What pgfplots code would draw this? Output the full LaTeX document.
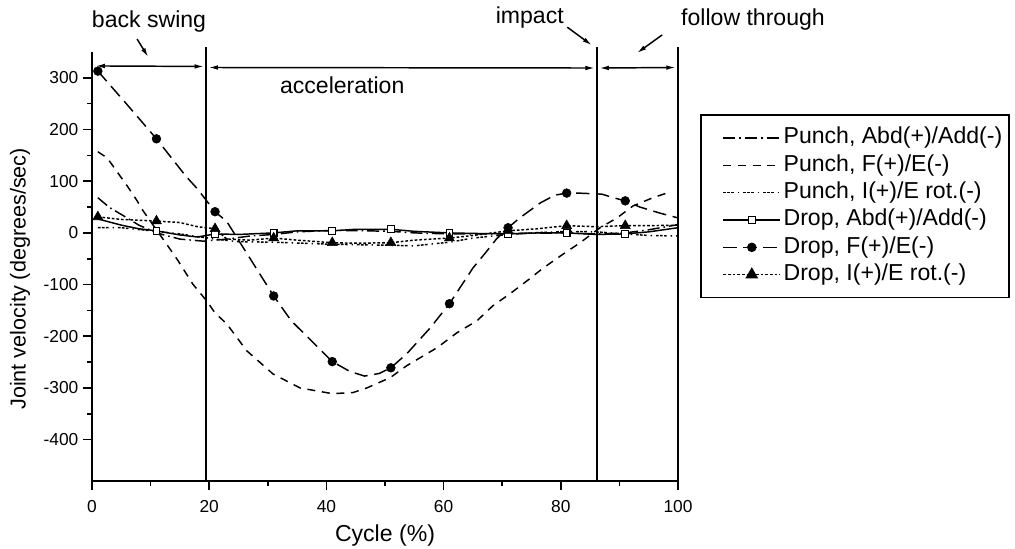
\documentclass[border=0pt]{standalone}
\usepackage{fontspec}
\setmainfont{Liberation Sans}
\usepackage{pgfplots}
\pgfplotsset{compat=1.18}
\usetikzlibrary{arrows.meta}

\pgfplotsset{
 pabd/.style={black, line width=1.1pt, dash pattern=on 9pt off 3pt on 1.2pt off 3pt},
 pfe/.style={black, line width=1.1pt, dash pattern=on 6pt off 5pt},
 pie/.style={black, line width=1.1pt, dash pattern=on 2pt off 1pt on 2pt off 1pt on 2pt off 3pt on 1pt off 3pt},
 dabd/.style={black, line width=1.1pt, solid},
 dfe/.style={black, line width=1.1pt, dash pattern=on 10pt off 5pt},
 die/.style={black, line width=1.1pt, dash pattern=on 2pt off 1.5pt},
}
\newcommand{\bigfont}{\fontsize{17.3}{20}\selectfont}

\begin{document}
\begin{tikzpicture}
\useasboundingbox (0,0) rectangle (761.25pt,411.75pt);
\begin{axis}[
  at={(69pt,51pt)}, anchor=south west,
  scale only axis, width=439.5pt, height=321.75pt,
  xmin=0, xmax=100, ymin=-480, ymax=350,
  axis lines=left, axis line style={-, line width=1.2pt},
  xtick={0,20,...,100}, ytick={-400,-300,...,300},
  minor x tick num=1, minor y tick num=1,
  tick align=outside, major tick length=6.75pt, minor tick length=3.75pt,
  every tick/.style={black, line width=1.2pt},
  tick label style={font=\fontsize{13}{15}\selectfont},
  x tick label style={yshift=-4.5pt},
  /pgf/number format/assume math mode=true,
  xlabel={Cycle (\%)}, ylabel={Joint velocity (degrees/sec)},
  xlabel style={font=\bigfont, at={(rel axis cs:0.5,-0.128)}, anchor=center},
  ylabel style={font=\fontsize{16.2}{19}\selectfont, at={(rel axis cs:-0.1229,0.471)}, anchor=center},
  clip=false,
  legend image code/.code={\path (-0.47cm,0cm); \draw[mark repeat=2,mark phase=2,#1] plot coordinates {(0cm,0cm) (0.75cm,0cm) (1.5cm,0cm)};},
  legend style={at={(rel axis cs:1.0375,0.855)}, anchor=north west, draw=black, line width=1.2pt,
    font=\bigfont, legend cell align=left, row sep=4pt, inner xsep=3pt, inner ysep=9pt,
    nodes={inner ysep=0pt, text height=12.5pt, text depth=4pt}},
]
\addlegendimage{pabd}
\addlegendimage{pfe}
\addlegendimage{pie}
\addlegendimage{dabd, mark=square*, mark options={solid, fill=white, line width=0.8pt}, mark size=2.5pt}
\addlegendimage{dfe, mark=*, mark options={solid}, mark size=3pt}
\addlegendimage{die, mark=triangle*, mark options={solid}, mark size=4.5pt}
\legend{Punch{,} Abd(+)/Add(-), Punch{,} F(+)/E(-), Punch{,} I(+)/E rot.(-), Drop{,} Abd(+)/Add(-), Drop{,} F(+)/E(-), Drop{,} I(+)/E rot.(-)}

% Punch, Abd(+)/Add(-)
\addplot[pabd, forget plot] coordinates {(1,68) (3,49) (5.4,33) (8,15) (11,0) (15,-12) (19,-16) (23,-12) (27,-6) (31,-3) (35,2) (41,5) (47,4) (51,3) (55,0) (61,-2) (67,-2) (71,-1) (81,0) (86,-2) (91,0) (95,6) (100,16)};
% Punch, F(+)/E(-)
\addplot[pfe, forget plot] coordinates {(1,157) (2.6,145) (4.8,110) (6,91) (7.7,62) (8.7,43) (11,6) (13.3,-31) (14.7,-54) (17.2,-99) (19.6,-132) (21,-155) (23,-176) (26.4,-228) (30.9,-273) (35.5,-300) (41,-311) (44.5,-309) (46.9,-300) (50.9,-280) (53.7,-257) (58.9,-222) (62.3,-193) (65.7,-170) (68.4,-141) (71.3,-118) (74.2,-93) (77,-68) (80.4,-41) (83.3,-19) (86.7,10) (89.6,29) (92.3,52) (95.7,68) (98.6,79)};
% Punch, I(+)/E rot.(-)
\addplot[pie, forget plot] coordinates {(1,10) (5,10) (11,3) (15,-2) (21,-12) (25,-17) (31,-18) (41,-22) (51,-24) (55,-25) (61,-18) (65,-10) (71,-3) (75,0) (81,3) (86,2) (91,-2) (95,-5) (100,-6)};
% Drop, Abd(+)/Add(-)
\addplot[dabd, forget plot] coordinates {(1,27) (5,15) (8,8) (11,4) (15,-4) (18,-8) (21,-2) (25,-3) (31,0) (35,4) (41,4) (45,7) (51,7) (55,3) (61,0) (65,-1) (71,-2) (76,0) (81,0) (86,-3) (91,-2) (95,2) (100,10)};
\addplot[only marks, mark=square*, mark options={solid, fill=white, draw=black, line width=0.8pt}, mark size=2.5pt, forget plot] coordinates {(11,4) (21,-2) (31,0) (41,4) (51,7) (61,0) (71,-2) (81,0) (91,-2)};
% Drop, F(+)/E(-)
\addplot[dfe, forget plot] coordinates {(1,313) (6,248) (11,182) (16,110) (18,85) (21,41) (23,22) (26,-32) (31,-122) (34,-170) (38,-215) (41,-249) (44,-268) (46.5,-277) (49,-272) (51,-261) (53.7,-234) (57.7,-184) (61,-137) (65,-68) (67.4,-35) (69,-12) (71,10) (73,29) (76.5,58) (79,73) (81,77) (83,77) (87,75) (89,68) (91,62) (93.5,50) (97,38) (100,29)};
\addplot[only marks, mark=*, mark size=3.3pt, black, forget plot] coordinates {(1,313) (11,182) (21,41) (31,-122) (41,-249) (51,-261) (61,-137) (71,10) (81,77) (91,62)};
% Drop, I(+)/E rot.(-)
\addplot[die, forget plot] coordinates {(1,31) (5,26) (11,23) (15,20) (18,12) (21,8) (23,-12) (27,-14) (31,-10) (35,-14) (41,-19) (45,-20) (51,-19) (55,-14) (61,-10) (65,-5) (71,4) (76,8) (81,14) (86,12) (91,14) (95,14) (100,15)};
\addplot[only marks, mark=triangle*, mark size=4.3pt, black, forget plot] coordinates {(1,31) (11,23) (21,8) (31,-10) (41,-19) (51,-19) (61,-10) (71,4) (81,14) (91,14)};

% phase lines
\draw[line width=1.2pt] (axis cs:19.5,-480) -- (axis cs:19.5,360);
\draw[line width=1.2pt] (axis cs:86.2,-480) -- (axis cs:86.2,360);
\draw[line width=1.2pt] (axis cs:100,-480) -- (axis cs:100,360);
\draw[line width=1.1pt, {Latex[length=7pt,width=3.5pt]}-{Latex[length=7pt,width=3.5pt]}] (axis cs:0.6,323) -- (axis cs:19.1,322);
\draw[line width=1.1pt, {Latex[length=7pt,width=3.5pt]}-{Latex[length=7pt,width=3.5pt]}] (axis cs:19.9,320) -- (axis cs:85.8,319);
\draw[line width=1.1pt, {Latex[length=7pt,width=3.5pt]}-{Latex[length=7pt,width=3.5pt]}] (axis cs:86.6,319) -- (axis cs:99.6,320);
\draw[line width=1.1pt, -{Latex[length=7pt,width=3.5pt]}] (axis cs:7.7,375) -- (axis cs:9.6,340);
\draw[line width=1.1pt, -{Latex[length=7pt,width=3.5pt]}] (axis cs:81.1,398) -- (axis cs:85.3,363);
\draw[line width=1.1pt, -{Latex[length=7pt,width=3.5pt]}] (axis cs:97.3,383) -- (axis cs:93,348);
\node[font=\bigfont] at (axis cs:9.73,408) {back swing};
\node[font=\bigfont] at (axis cs:42.7,286) {acceleration};
\node[font=\bigfont] at (axis cs:74.7,416) {impact};
\node[font=\bigfont] at (axis cs:112.8,412) {follow through};
\end{axis}
\end{tikzpicture}
\end{document}
